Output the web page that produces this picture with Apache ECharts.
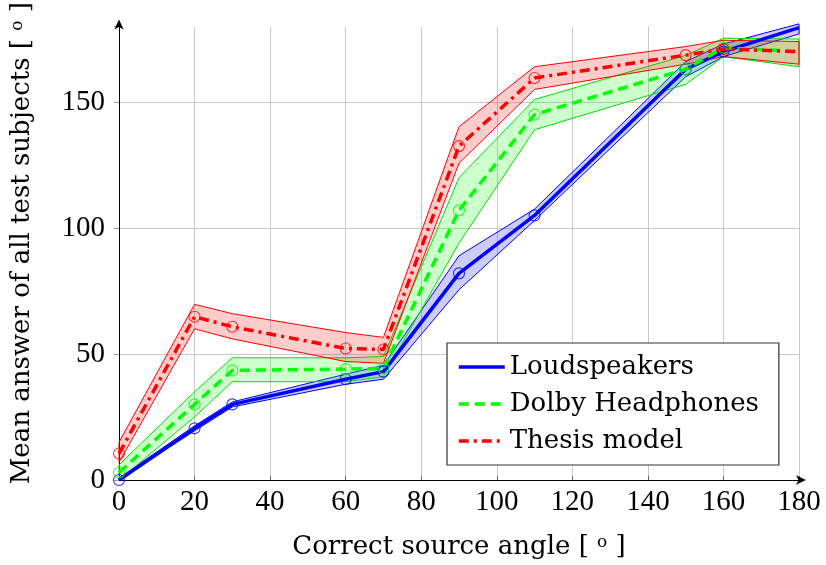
<!DOCTYPE html>
<html><head><meta charset="utf-8">
<script src="https://cdn.jsdelivr.net/npm/echarts@6/dist/echarts.min.js"></script>
<style>html,body{margin:0;padding:0;background:#fff}#c{width:826px;height:565px}</style>
</head><body><div id="c"></div>
<script>
const angles = [0, 20, 30, 60, 70, 90, 110, 150, 160, 180];
// circles are drawn at every measured angle except the last one (180)
const markedCount = 9;

const loudMean  = [0, 20.5, 30, 40, 43, 82, 105, 163, 170, 179.5];
const loudLower = [0, 19.5, 29, 38, 40, 75.5, 103, 160, 168, 177];
const loudUpper = [0.8, 21.5, 31, 42, 45.5, 89, 107.5, 166, 173, 181];

const dolbyMean  = [3, 30, 43.5, 44, 44.3, 107, 145, 163, 171.5, 170];
const dolbyLower = [0, 25, 39, 39, 41, 94, 139, 157, 168, 164];
const dolbyUpper = [6, 35, 48.5, 48.5, 49, 120, 151, 168.5, 175.3, 175];

const thesisMean  = [10.5, 64.8, 60.8, 52.2, 51.8, 132.5, 159.5, 168.6, 171, 170];
const thesisLower = [7, 60, 56, 47, 46.3, 125.7, 155, 165, 168, 165];
const thesisUpper = [15, 69.7, 66, 58.5, 56.6, 140.2, 164, 172, 174.5, 174];

const xTicks = [0, 20, 40, 60, 80, 100, 120, 140, 160, 180];
const yTicks = [0, 50, 100, 150];

const FONT = 'DejaVu Serif';
const NUMFONT = 'Liberation Serif';

function pairs(ys, n){ return angles.slice(0, n || angles.length).map((a,i)=>[a, ys[i]]); }

function band(name, lower, upper, stroke, fill){
  return {
    type:'custom', name: name + ' band', silent:true, z:1,
    data:[[0,0]],
    renderItem: function(params, api){
      const pts=[];
      for(let i=0;i<angles.length;i++) pts.push(api.coord([angles[i], upper[i]]));
      for(let i=angles.length-1;i>=0;i--) pts.push(api.coord([angles[i], lower[i]]));
      return {type:'polygon', shape:{points:pts}, style:{fill:fill, stroke:stroke, lineWidth:1}};
    }
  };
}
function line(name, ys, color, type){
  return {type:'line', name:name, data:pairs(ys), symbol:'none', showSymbol:false, z:3,
    lineStyle:{color:color, width:3.5, type:type}, itemStyle:{color:color}};
}
function marks(ys, color){
  return {type:'scatter', data:pairs(ys, markedCount), symbol:'circle', symbolSize:11, z:4, silent:true,
    itemStyle:{color:'rgba(0,0,0,0)', borderColor:color, borderWidth:1.1}};
}

const richName = {
  a:{fontFamily:FONT, fontSize:26, color:'#000'},
  s:{fontFamily:FONT, fontSize:17, color:'#000', verticalAlign:'top', padding:[0,0,6,0]}
};

const chart = echarts.init(document.getElementById('c'), null, {renderer:'canvas'});
chart.setOption({
  animation:false,
  backgroundColor:'#fff',
  grid:{left:119, right:27, top:26.4, bottom:85, containLabel:false, outerBoundsMode:'none'},
  xAxis:{type:'value', min:0, max:180, interval:20,
    name:'{a|Correct source angle [ }{s|o}{a| ]}', nameLocation:'middle', nameGap:54,
    nameTextStyle:{fontFamily:FONT, fontSize:26, color:'#000', rich:richName},
    axisLine:{show:true, symbol:['none','arrow'], symbolSize:[7,10], symbolOffset:[0,7], lineStyle:{color:'#000', width:1}},
    axisTick:{show:true, inside:true, length:4, lineStyle:{color:'#666'}},
    axisLabel:{fontFamily:NUMFONT, fontSize:29, color:'#000', margin:8,
      formatter:v=> xTicks.includes(v) ? String(v) : ''},
    splitLine:{show:true, lineStyle:{color:'#c8c8c8', width:1}}
  },
  yAxis:{type:'value', min:0, max:180, interval:50,
    name:'{a|Mean answer of all test subjects [ }{s|o}{a| ]}', nameLocation:'middle', nameGap:84,
    nameTextStyle:{fontFamily:FONT, fontSize:26, color:'#000', rich:richName, padding:[0,0,0,20]},
    axisLine:{show:true, symbol:['none','arrow'], symbolSize:[7,10], symbolOffset:[0,7], lineStyle:{color:'#000', width:1}},
    axisTick:{show:true, inside:false, length:5, lineStyle:{color:'#999'}},
    axisLabel:{fontFamily:NUMFONT, fontSize:29, color:'#000', margin:14,
      formatter:v=> yTicks.includes(v) ? String(v) : ''},
    splitLine:{show:true, lineStyle:{color:['#c8c8c8','#c8c8c8','#c8c8c8','#c8c8c8','rgba(0,0,0,0)'], width:1}}
  },
  legend:{
    orient:'vertical', left:447, top:343,
    data:['Loudspeakers','Dolby Headphones','Thesis model'],
    itemWidth:46, itemHeight:14, itemGap:11,
    padding:[11,20,11,10],
    borderColor:'#333', borderWidth:1.2, backgroundColor:'#fff',
    itemStyle:{opacity:0},
    lineStyle:{width:3.5},
    textStyle:{fontFamily:FONT, fontSize:26, color:'#000', lineHeight:26}
  },
  series:[
    band('Loudspeakers', loudLower, loudUpper, '#0000ff', 'rgba(0,0,255,0.2)'),
    band('Dolby Headphones', dolbyLower, dolbyUpper, '#00e000', 'rgba(0,255,0,0.2)'),
    band('Thesis model', thesisLower, thesisUpper, '#ff0000', 'rgba(255,0,0,0.2)'),
    line('Loudspeakers', loudMean, '#0000ff', 'solid'),
    line('Dolby Headphones', dolbyMean, '#00ff00', [10,6]),
    line('Thesis model', thesisMean, '#ff0000', [10,5,3,5]),
    marks(loudMean, '#0000ff'),
    marks(dolbyMean, '#00ff00'),
    marks(thesisMean, '#ff0000')
  ]
});
</script>
</body></html>
